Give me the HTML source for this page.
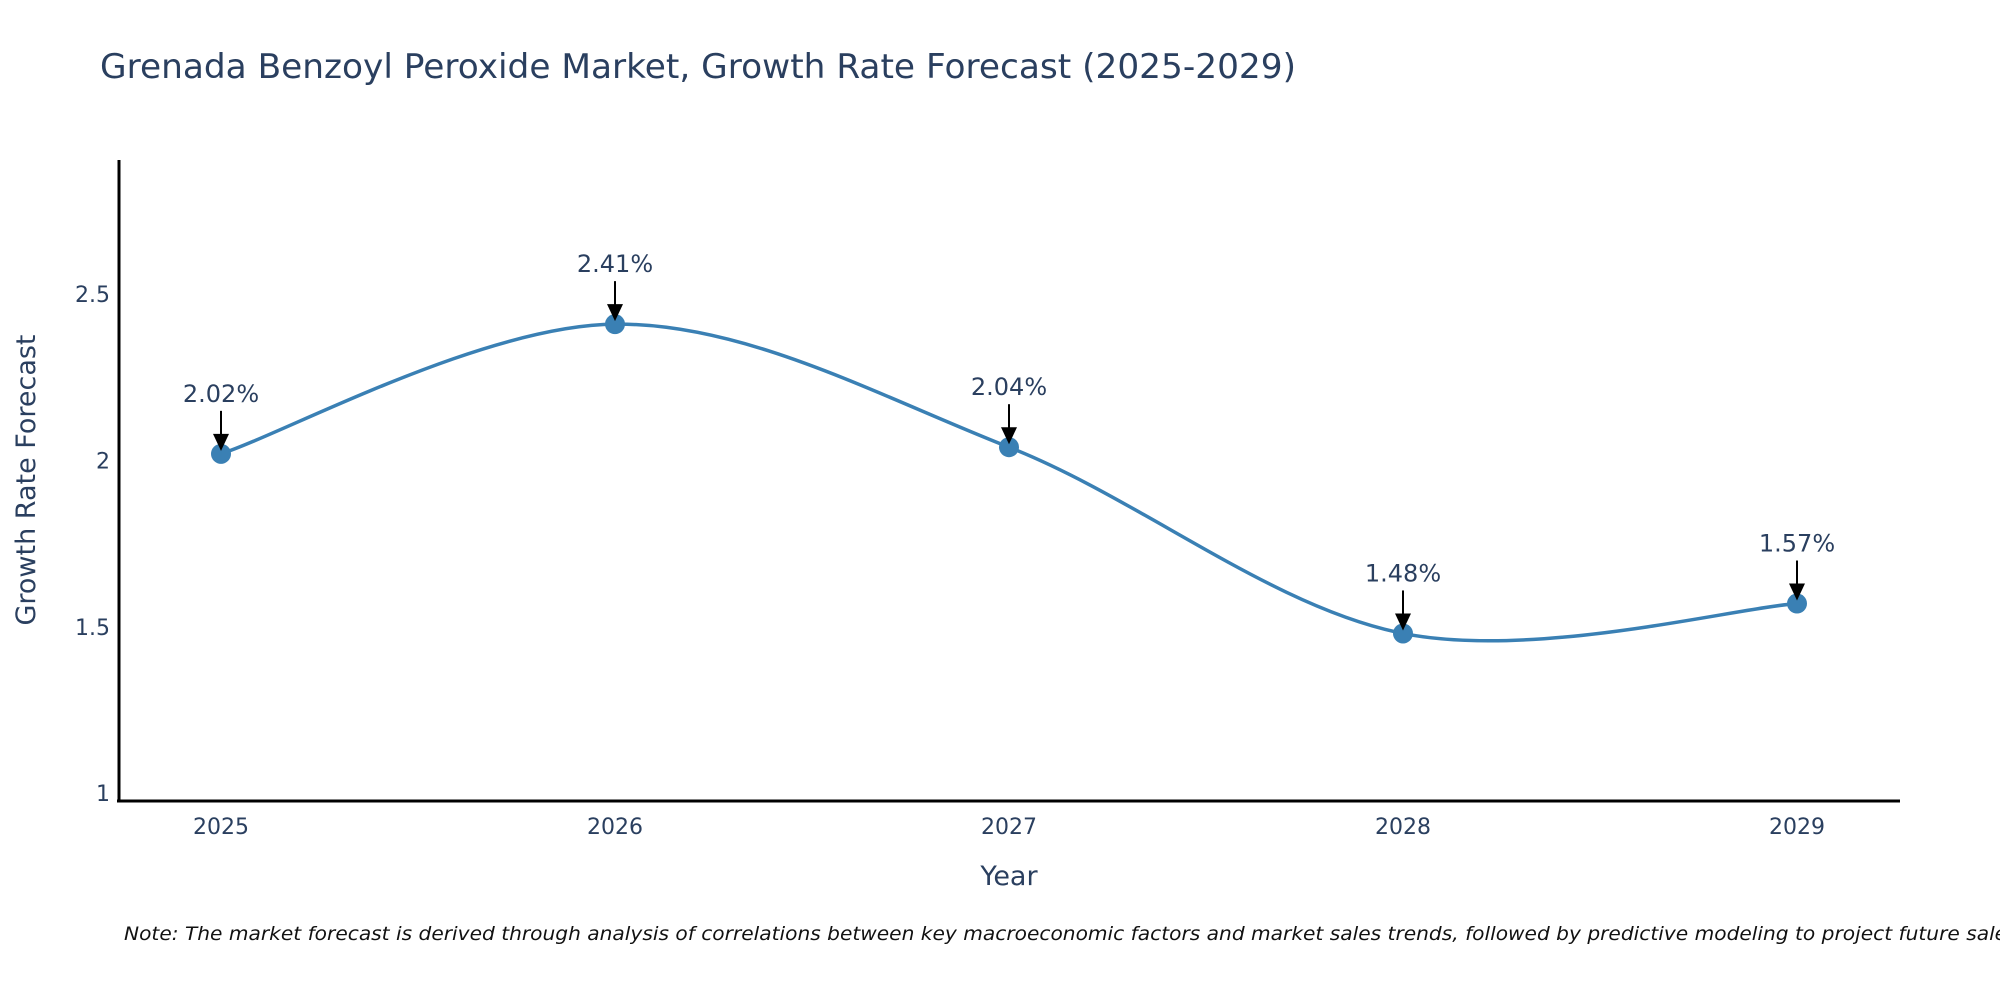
<!DOCTYPE html>
<html><head><meta charset="utf-8"><style>
html,body{margin:0;padding:0;background:#fff;}
svg{display:block;font-family:"DejaVu Sans","Liberation Sans",sans-serif;}
</style></head><body>
<svg id="chart" width="2000" height="1000" viewBox="0 0 2000 1000">
<text x="100" y="78" font-size="34" fill="#2a3f5f" textLength="1196" lengthAdjust="spacingAndGlyphs">Grenada Benzoyl Peroxide Market, Growth Rate Forecast (2025-2029)</text>
<g id="yticks"></g>
<g id="xticks"></g>
<line x1="119" y1="160" x2="119" y2="802" stroke="#000" stroke-width="3"/>
<line x1="117" y1="801" x2="1900" y2="801" stroke="#000" stroke-width="3"/>
<text transform="translate(35,480) rotate(-90)" text-anchor="middle" font-size="27" fill="#2a3f5f">Growth Rate Forecast</text>
<text x="1009" y="885" text-anchor="middle" font-size="27" fill="#2a3f5f">Year</text>
<path id="line" fill="none" stroke="#3a80b4" stroke-width="3.5"/>
<g id="points"></g>
<g id="annots"></g>
<text x="124" y="940" font-size="19" font-style="italic" fill="#111" textLength="1900" lengthAdjust="spacingAndGlyphs">Note: The market forecast is derived through analysis of correlations between key macroeconomic factors and market sales trends, followed by predictive modeling to project future sales.</text>
</svg>
<script>
const categories = ["2025","2026","2027","2028","2029"];
const values = [2.02, 2.41, 2.04, 1.48, 1.57];
const yTickValues = [1, 1.5, 2, 2.5];
const yTickLabels = ["1","1.5","2","2.5"];
const NS="http://www.w3.org/2000/svg";
function xScale(i){return 221 + i*394;}
function yScale(v){return 460.5 - (v-2)*332.6;}
function mk(tag,attrs,parent,text){const e=document.createElementNS(NS,tag);for(const k in attrs)e.setAttribute(k,attrs[k]);if(text!==undefined)e.textContent=text;parent.appendChild(e);return e;}
const yt=document.getElementById('yticks');
yTickValues.forEach((v,i)=>{
  const t=mk('text',{x:110,y:yScale(v)+8,'text-anchor':'end','font-size':22,fill:'#2a3f5f'},yt,yTickLabels[i]);
  
  
});
const xt=document.getElementById('xticks');
categories.forEach((c,i)=>{
  const t=mk('text',{x:xScale(i),y:834,'text-anchor':'middle','font-size':22,fill:'#2a3f5f'},xt,c);
  
  
});
const pts=values.map((v,i)=>[xScale(i),yScale(v)]);
let d=`M${pts[0][0]},${pts[0][1]}`;
const s=0.5;
for(let i=0;i<pts.length-1;i++){
  const p0=pts[i-1]||pts[i],p1=pts[i],p2=pts[i+1],p3=pts[i+2]||pts[i+1];
  const c1=[p1[0]+(p2[0]-p0[0])*s/3,p1[1]+(p2[1]-p0[1])*s/3];
  const c2=[p2[0]-(p3[0]-p1[0])*s/3,p2[1]-(p3[1]-p1[1])*s/3];
  d+=` C${c1[0]},${c1[1]} ${c2[0]},${c2[1]} ${p2[0]},${p2[1]}`;
}
document.getElementById('line').setAttribute('d',d);
const pg=document.getElementById('points'),ag=document.getElementById('annots');
pts.forEach((p,i)=>{
  const c=mk('circle',{cx:p[0],cy:p[1],r:10,fill:'#3a80b4'},pg);
  
  
  const l=mk('line',{x1:p[0],y1:p[1]-43,x2:p[0],y2:p[1]-18,stroke:'#000','stroke-width':2},ag);
  
  
  const h=mk('polygon',{points:`${p[0]-8},${p[1]-20} ${p[0]+8},${p[1]-20} ${p[0]},${p[1]-3}`,fill:'#000'},ag);
  
  
  const t=mk('text',{x:p[0],y:p[1]-52,'text-anchor':'middle','font-size':24,fill:'#2a3f5f'},ag,values[i].toFixed(2)+'%');
  
  
});
</script>
</body></html>
